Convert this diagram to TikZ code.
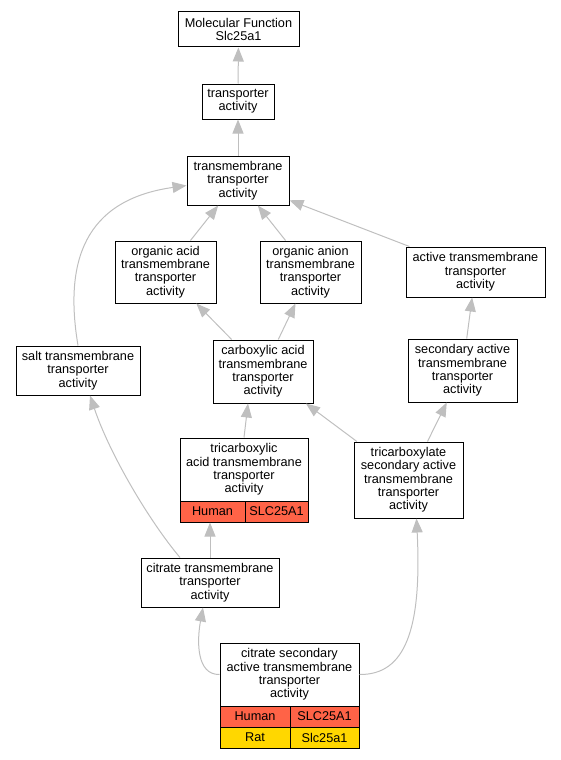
\documentclass[tikz,border=0pt]{standalone}
\usepackage{fontspec}
\setmainfont{Liberation Sans}
\usetikzlibrary{arrows.meta}
\definecolor{human}{HTML}{FF6347}
\definecolor{rat}{HTML}{FFD700}

\begin{document}
\begin{tikzpicture}[x=1pt,y=-1pt,
	term/.style={draw=black, line width=1pt, fill=white, align=center, inner sep=0pt, font=\fontsize{12.7}{13.3}\selectfont},
	cell/.style={draw=black, line width=1pt, inner sep=0pt, minimum height=21pt, font=\fontsize{12.7}{13.3}\selectfont},
	edge/.style={draw=black!25, line width=1pt, -{Triangle[length=14pt,width=11pt]}}]
		\useasboundingbox (0,0) rectangle (561,760);

		% GO terms
		\node[term, minimum width=121pt, minimum height=35pt] (mf) at (238.5,29.5) {Molecular Function\\Slc25a1};
		\node[term, minimum width=72pt, minimum height=35pt] (ta) at (238,101.5) {transporter\\activity};
		\node[term, minimum width=102pt, minimum height=49pt] (tta) at (238,180.5) {transmembrane\\transporter\\activity};
		\node[term, minimum width=101pt, minimum height=62pt] (oaa) at (165.5,272) {organic acid\\transmembrane\\transporter\\activity};
		\node[term, minimum width=101pt, minimum height=62pt] (oan) at (310.5,272) {organic anion\\transmembrane\\transporter\\activity};
		\node[term, minimum width=139pt, minimum height=50pt] (atta) at (475.5,272) {active transmembrane\\transporter\\activity};
		\node[term, minimum width=124pt, minimum height=49pt] (salt) at (78,370.5) {salt transmembrane\\transporter\\activity};
		\node[term, minimum width=100pt, minimum height=63pt] (carb) at (263,371.5) {carboxylic acid\\transmembrane\\transporter\\activity};
		\node[term, minimum width=109pt, minimum height=63pt] (sec) at (462.5,370.5) {secondary active\\transmembrane\\transporter\\activity};
		\node[term, minimum width=128pt, minimum height=63pt] (tric) at (244,469.5) {tricarboxylic\\acid transmembrane\\transporter\\activity};
		\node[term, minimum width=109pt, minimum height=76pt] (tcx) at (408.5,480) {tricarboxylate\\secondary active\\transmembrane\\transporter\\activity};
		\node[term, minimum width=138pt, minimum height=49pt] (cit) at (210,582.5) {citrate transmembrane\\transporter\\activity};
		\node[term, minimum width=139pt, minimum height=63pt] (csa) at (289.5,674.5) {citrate secondary\\active transmembrane\\transporter\\activity};

		% gene rows
		\node[cell, fill=human, minimum width=65pt] (tricH) at (212.5,511.5) {Human};
		\node[cell, fill=human, minimum width=63pt] (tricG) at (276.5,511.5) {SLC25A1};
		\node[cell, fill=human, minimum width=70pt] (csaH) at (255,716.5) {Human};
		\node[cell, fill=human, minimum width=69pt] (csaG) at (324.5,716.5) {SLC25A1};
		\node[cell, fill=rat, minimum width=70pt] (csaR) at (255,737.5) {Rat};
		\node[cell, fill=rat, minimum width=69pt] (csaS) at (324.5,737.5) {Slc25a1};

		% is_a edges
		\draw[edge] (ta) -- (mf);
		\draw[edge] (tta) -- (ta);
		\draw[edge] (oaa) -- (tta);
		\draw[edge] (oan) -- (tta);
		\draw[edge] (atta) -- (tta);
		\draw[edge] (salt.north) .. controls (64,262) and (84,200) .. ([yshift=-5pt]tta.west);
		\draw[edge] (carb) -- (oaa);
		\draw[edge] (carb) -- (oan);
		\draw[edge] (sec) -- (atta);
		\draw[edge] (tric.north) -- ([xshift=-15pt]carb.south);
		\draw[edge] (tcx) -- (carb);
		\draw[edge] (tcx) -- (sec);
		\draw[edge] (cit) -- (cit |- tricH.south);
		\draw[edge] ([xshift=-30pt]cit.north) .. controls (150,522) and (110,455) .. ([xshift=12pt]salt.south);
		\draw[edge] (csa.west) .. controls (196,675) and (197,640) .. ([xshift=-7pt]cit.south);
		\draw[edge] (csa.east) .. controls (405,675) and (422,630) .. ([xshift=8pt]tcx.south);

	\end{tikzpicture}
\end{document}
